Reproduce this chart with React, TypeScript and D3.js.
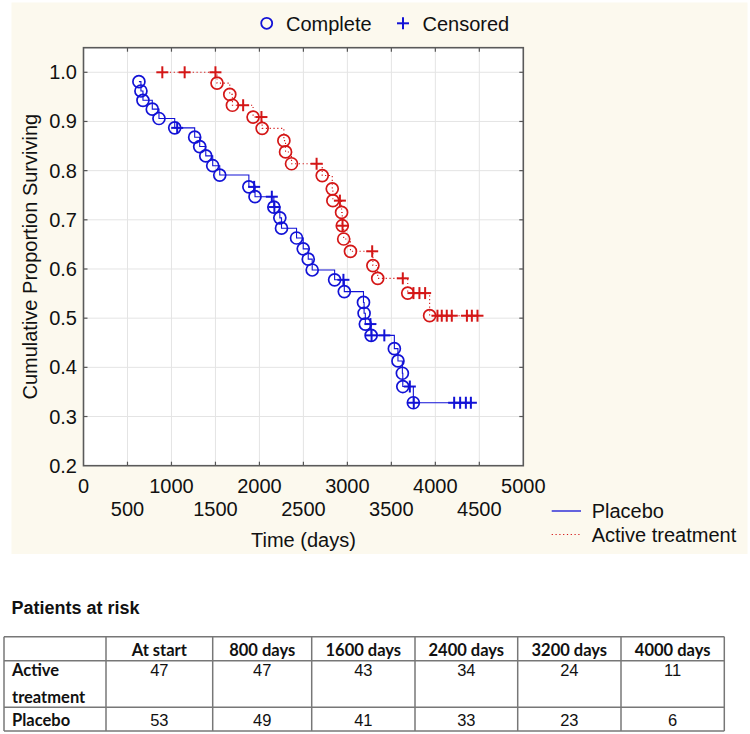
import React from "react";
import * as d3 from "d3";

// ---------- data ----------
// Placebo group (Kaplan-Meier points): time (days), cumulative survival, censored flag
const placeboTime = [630, 653, 676, 782, 858, 1037, 1065, 1264, 1321, 1390, 1469, 1549, 1880, 1940, 1950, 2141, 2164, 2170, 2232, 2251, 2422, 2498, 2555, 2600, 2855, 2955, 2965, 3183, 3190, 3204, 3262, 3270, 3275, 3420, 3534, 3575, 3625, 3630, 3710, 3750, 3755, 4214, 4282, 4347, 4404];
const placeboSurv = [0.981, 0.962, 0.943, 0.925, 0.906, 0.887, 0.887, 0.868, 0.849, 0.83, 0.81, 0.791, 0.767, 0.767, 0.747, 0.747, 0.726, 0.726, 0.704, 0.683, 0.663, 0.641, 0.62, 0.598, 0.578, 0.578, 0.554, 0.532, 0.51, 0.488, 0.488, 0.465, 0.465, 0.465, 0.438, 0.413, 0.388, 0.361, 0.361, 0.328, 0.328, 0.328, 0.328, 0.328, 0.328];
const placeboCens = [0, 0, 0, 0, 0, 0, 1, 0, 0, 0, 0, 0, 0, 1, 0, 1, 0, 1, 0, 0, 0, 0, 0, 0, 0, 1, 0, 0, 0, 0, 1, 0, 1, 1, 0, 0, 0, 0, 1, 0, 1, 1, 1, 1, 1];

// Active treatment group
const activeTime = [896, 1150, 1500, 1518, 1663, 1693, 1815, 1928, 2023, 2031, 2278, 2297, 2365, 2650, 2714, 2828, 2835, 2915, 2934, 2942, 2945, 2958, 3035, 3282, 3290, 3345, 3630, 3686, 3751, 3819, 3884, 3935, 4024, 4073, 4130, 4187, 4359, 4415, 4479];
const activeSurv = [1, 1, 1, 0.978, 0.955, 0.933, 0.933, 0.909, 0.909, 0.886, 0.861, 0.838, 0.814, 0.814, 0.79, 0.763, 0.739, 0.739, 0.715, 0.688, 0.688, 0.661, 0.636, 0.636, 0.607, 0.581, 0.581, 0.551, 0.551, 0.551, 0.551, 0.505, 0.505, 0.505, 0.505, 0.505, 0.505, 0.505, 0.505];
const activeCens = [1, 1, 1, 0, 0, 0, 1, 0, 1, 0, 0, 0, 0, 1, 0, 0, 0, 1, 0, 0, 1, 0, 0, 1, 0, 0, 1, 0, 1, 1, 1, 0, 1, 1, 1, 1, 1, 1, 1];

// axis ticks
const xTicksRow1 = [0, 1000, 2000, 3000, 4000, 5000];
const xTicksRow2 = [500, 1500, 2500, 3500, 4500];
const yTicks = [0.2, 0.3, 0.4, 0.5, 0.6, 0.7, 0.8, 0.9, 1.0];

// patients at risk table
const tableHeaders = ["At start", "800 days", "1600 days", "2400 days", "3200 days", "4000 days"];
const activeAtRisk = [47, 47, 43, 34, 24, 11];
const placeboAtRisk = [53, 49, 41, 33, 23, 6];

// ---------- styling ----------
const BLUE = "#1212d6";
const RED = "#d41616";
const CREAM = "#fcf9ee";
const FONT = "'Liberation Sans', Arial, sans-serif";
const TFONT = "Lato, 'Open Sans', sans-serif";

type Pt = { t: number; s: number; c: number };

function zip(t: number[], s: number[], c: number[]): Pt[] {
  return t.map((v, i) => ({ t: v, s: s[i], c: c[i] }));
}

function Plus({ cx, cy, color, size = 6 }: { cx: number; cy: number; color: string; size?: number }) {
  return (
    <g stroke={color} strokeWidth={2}>
      <line x1={cx - size} x2={cx + size} y1={cy} y2={cy} />
      <line x1={cx} x2={cx} y1={cy - size} y2={cy + size} />
    </g>
  );
}

export default function App() {
  const W = 750;
  const H = 734;
  const left = 83.5, right = 523.3, top = 47.7, bottom = 465.7;
  const x = d3.scaleLinear().domain([0, 5000]).range([left, right]);
  const y = d3.scaleLinear().domain([0.2, 1.05]).range([bottom, top]);

  const placebo = zip(placeboTime, placeboSurv, placeboCens);
  const active = zip(activeTime, activeSurv, activeCens);

  const line = d3
    .line<Pt>()
    .curve(d3.curveStepAfter)
    .x((d) => x(d.t))
    .y((d) => y(d.s));

  const xGrid = d3.range(500, 5000, 500);
  const tickLen = 4;

  const colEdges = [4, 106, 212.7, 311.7, 415, 517.7, 621, 724.3];
  const rowEdges = [636.7, 660.7, 707.3, 731];

  const markers = (data: Pt[], color: string) =>
    data.map((d, i) =>
      d.c ? (
        <Plus key={i} cx={x(d.t)} cy={y(d.s)} color={color} />
      ) : (
        <circle key={i} cx={x(d.t)} cy={y(d.s)} r={6} fill="none" stroke={color} strokeWidth={1.7} />
      )
    );

  return (
    <svg width={W} height={H} style={{ position: "absolute", left: 0, top: 0, background: "#fff" }} fontFamily={FONT}>
      <rect x={11.5} y={2.5} width={736} height={551.5} fill={CREAM} />
      {/* top legend */}
      <circle cx={266.7} cy={23.3} r={5.5} fill="none" stroke={BLUE} strokeWidth={1.8} />
      <text x={286} y={30.5} fontSize={20} fill="#111">Complete</text>
      <Plus cx={403} cy={23.3} color={BLUE} />
      <text x={422.5} y={30.5} fontSize={20} fill="#111">Censored</text>

      {/* plot area */}
      <rect x={left} y={top} width={right - left} height={bottom - top} fill="#fff" />
      {xGrid.map((v) => (
        <line key={"gx" + v} x1={x(v)} x2={x(v)} y1={top} y2={bottom} stroke="#e4e4e4" strokeWidth={1} />
      ))}
      {yTicks.slice(1).map((v) => (
        <line key={"gy" + v} x1={left} x2={right} y1={y(v)} y2={y(v)} stroke="#e4e4e4" strokeWidth={1} />
      ))}
      {xGrid.map((v) => (
        <g key={"tx" + v} stroke="#555" strokeWidth={1.2}>
          <line x1={x(v)} x2={x(v)} y1={bottom} y2={bottom - tickLen} />
          <line x1={x(v)} x2={x(v)} y1={top} y2={top + tickLen} />
        </g>
      ))}
      {yTicks.slice(1).map((v) => (
        <g key={"ty" + v} stroke="#555" strokeWidth={1.2}>
          <line x1={left} x2={left + tickLen} y1={y(v)} y2={y(v)} />
          <line x1={right} x2={right - tickLen} y1={y(v)} y2={y(v)} />
        </g>
      ))}
      <rect x={left} y={top} width={right - left} height={bottom - top} fill="none" stroke="#5a5a5a" strokeWidth={1.6} />

      {/* curves */}
      <path d={line(active) || ""} fill="none" stroke={RED} strokeWidth={1.1} strokeDasharray="1.2 2.6" />
      {markers(active, RED)}
      <path d={line(placebo) || ""} fill="none" stroke={BLUE} strokeWidth={1.1} />
      {markers(placebo, BLUE)}

      {/* axis labels */}
      {yTicks.map((v) => (
        <text key={"yl" + v} x={77} y={y(v) + 7} fontSize={20} textAnchor="end" fill="#111">
          {v.toFixed(1)}
        </text>
      ))}
      {xTicksRow1.map((v) => (
        <text key={"xl1" + v} x={x(v)} y={493} fontSize={20} textAnchor="middle" fill="#111">
          {v}
        </text>
      ))}
      {xTicksRow2.map((v) => (
        <text key={"xl2" + v} x={x(v)} y={515.5} fontSize={20} textAnchor="middle" fill="#111">
          {v}
        </text>
      ))}
      <text x={(left + right) / 2} y={547} fontSize={20} textAnchor="middle" fill="#111">
        Time (days)
      </text>
      <text
        transform={`translate(37,${(top + bottom) / 2}) rotate(-90)`}
        fontSize={20}
        textAnchor="middle"
        fill="#111"
      >
        Cumulative Proportion Surviving
      </text>

      {/* bottom legend */}
      <line x1={551.7} x2={581} y1={511} y2={511} stroke={BLUE} strokeWidth={1.3} />
      <text x={591.7} y={518} fontSize={20} fill="#111">Placebo</text>
      <line x1={551.7} x2={581} y1={534.5} y2={534.5} stroke={RED} strokeWidth={1.1} strokeDasharray="1.2 2.6" />
      <text x={591.7} y={542} fontSize={20} fill="#111">Active treatment</text>

      {/* patients at risk */}
      <text x={11.5} y={614} fontSize={18} fontWeight="bold" fill="#111">Patients at risk</text>
      <g stroke="#777" strokeWidth={1.5}>
        {rowEdges.map((r, i) => (
          <line key={"re" + i} x1={colEdges[0]} x2={colEdges[colEdges.length - 1]} y1={r} y2={r} />
        ))}
        {colEdges.map((c, i) => (
          <line key={"ce" + i} x1={c} x2={c} y1={rowEdges[0]} y2={rowEdges[rowEdges.length - 1]} />
        ))}
      </g>
      {tableHeaders.map((h, i) => (
        <text key={"th" + i} x={(colEdges[i + 1] + colEdges[i + 2]) / 2} y={656} fontSize={16.5} fontWeight="bold" textAnchor="middle" fontFamily={TFONT} fill="#111">
          {h}
        </text>
      ))}
      <text x={12} y={676} fontSize={16.5} fontWeight="bold" fontFamily={TFONT} fill="#111">Active</text>
      <text x={12} y={702.5} fontSize={16.5} fontWeight="bold" fontFamily={TFONT} fill="#111">treatment</text>
      <text x={12} y={726} fontSize={16.5} fontWeight="bold" fontFamily={TFONT} fill="#111">Placebo</text>
      {activeAtRisk.map((v, i) => (
        <text key={"ar" + i} x={(colEdges[i + 1] + colEdges[i + 2]) / 2} y={676} fontSize={16.5} textAnchor="middle" fill="#111">
          {v}
        </text>
      ))}
      {placeboAtRisk.map((v, i) => (
        <text key={"pr" + i} x={(colEdges[i + 1] + colEdges[i + 2]) / 2} y={726} fontSize={16.5} textAnchor="middle" fill="#111">
          {v}
        </text>
      ))}
    </svg>
  );
}
